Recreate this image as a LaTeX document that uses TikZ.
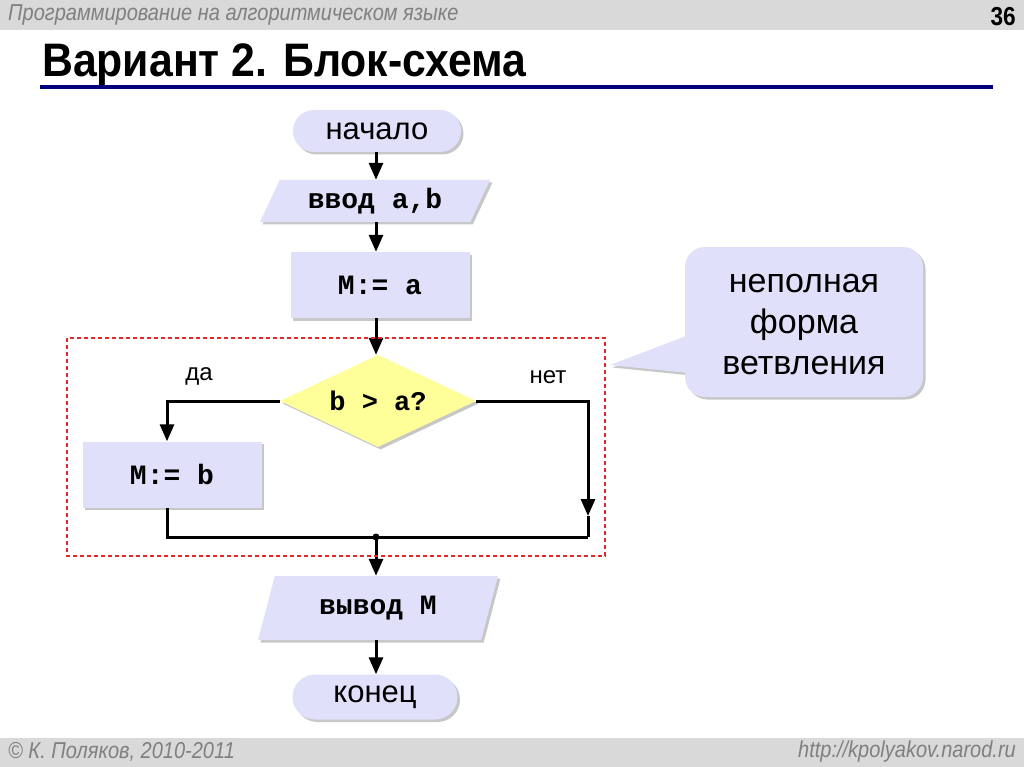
\documentclass[tikz,border=0pt]{standalone}
\usepackage{fontspec}
\setmainfont{Liberation Sans}
\newfontfamily\monof{Liberation Mono}
\newfontfamily\narrowf[FakeStretch=0.87]{Liberation Sans}
\newfontfamily\titlef[FakeStretch=0.91]{Liberation Sans}
\usetikzlibrary{shapes.geometric,shapes.misc,shadows,arrows.meta,backgrounds}
\pgfdeclarelayer{bottomlayer}
\pgfsetlayers{bottomlayer,background,main}
\definecolor{boxfill}{RGB}{224,224,250}
\definecolor{dfill}{RGB}{255,255,153}
\definecolor{barg}{RGB}{217,217,217}
\definecolor{navyline}{RGB}{0,0,128}
\definecolor{txtg}{RGB}{128,128,128}
\definecolor{dred}{RGB}{225,40,40}
\tikzset{
  shad/.style={drop shadow={shadow xshift=2.5pt, shadow yshift=-2.5pt, fill=black, opacity=0.22}},
  base/.style={fill=boxfill, draw=none, shad, inner sep=0pt},
  term/.style={base, rounded rectangle, minimum width=168pt, minimum height=42pt, font=\fontsize{31}{34}\selectfont},
  io/.style={base, trapezium, trapezium stretches body, font=\monof\bfseries\fontsize{28}{30}\selectfont},
  proc/.style={base, rectangle, minimum width=179pt, minimum height=66pt, font=\monof\bfseries\fontsize{28}{30}\selectfont},
  dec/.style={fill=dfill, draw=none, diamond, aspect=2.13, shad, inner sep=0pt, minimum width=196pt, minimum height=92pt, font=\monof\bfseries\fontsize{27}{30}\selectfont},
  conn/.style={line width=3pt, draw=black},
  arr/.style={conn, -{Triangle[length=17pt,width=14pt]}},
  lbl/.style={font=\fontsize{24}{26}\selectfont, inner sep=0pt},
  callout/.style={fill=boxfill, draw=none, shad, rounded corners=20pt, minimum width=238pt, minimum height=150pt},
  callouttext/.style={align=center, inner sep=0pt, font=\fontsize{34}{41}\selectfont},
  hdr/.style={font=\narrowf\itshape\fontsize{23}{26}\selectfont, text=txtg, inner sep=0pt}
}
\begin{document}
\begin{tikzpicture}[x=1pt, y=-1pt]
\useasboundingbox (0,0) rectangle (1024,767);
\begin{pgfonlayer}{bottomlayer}
\fill[white] (0,0) rectangle (1024,767);
\end{pgfonlayer}
% header and footer
\fill[barg] (0,0) rectangle (1024,30);
\fill[barg] (0,738) rectangle (1024,767);
\node[hdr, anchor=west] (htxt) at (8,15) {Программирование на алгоритмическом языке};
\node[font=\narrowf\bfseries\fontsize{26}{28}\selectfont, anchor=east, inner sep=0pt] (pg) at (1016,17) {36};
\node[font=\titlef\bfseries\fontsize{47}{50}\selectfont, anchor=base west, inner sep=0pt] (title) at (42,77) {Вариант 2. Блок-схема};
\draw[navyline, line width=4pt] (40,87) -- (993,87);
\node[hdr, anchor=west] (foot1) at (8,752) {© К. Поляков, 2010-2011};
\node[hdr, anchor=east] (foot2) at (1016,752) {http://kpolyakov.narod.ru};

% flowchart nodes
\node[term] (st) at (377,131) {начало};
\node[io, trapezium left angle=52.7, trapezium right angle=127.3, minimum width=230pt, minimum height=42pt] (in) at (375,201) {ввод a,b};
\node[proc] (ma) at (380,285) {M:= a};
\node[dec] (d) at (378,401) {b > a?};
\node[proc] (mb) at (172,474.5) {M:= b};
\node[io, trapezium left angle=55, trapezium right angle=125, minimum width=240pt, minimum height=64pt] (out) at (378,608) {вывод M};
\node[term, minimum width=165pt, minimum height=45pt] (en) at (375,697) {конец};

\node[lbl] (yes) at (199,376) {да};
\node[lbl] (no) at (548,377) {нет};

\coordinate (jL) at (167,537);
\coordinate (jM) at (376,537);
\coordinate (jR) at (588,537);
\coordinate (aR) at (588,516);

% connectors
\draw[arr] (st.south -| jM) -- (in.north -| jM);
\draw[arr] (in.south -| jM) -- (ma.north -| jM);
\draw[arr] (ma.south -| jM) -- (d.north -| jM);
\draw[arr] (d.west) -| (jL |- mb.north);
\draw[arr] (d.east) -| (aR);
\draw[conn] (aR) -- (jR);
\draw[conn, line join=miter] (jL |- mb.south) -- (jL) -- (jR);
\fill (jM) circle (3.5pt);
\draw[arr] (jM) -- (out.north -| jM);
\draw[arr] (out.south -| jM) -- (en.north -| jM);

% dashed frame
\draw[dred, line width=1.2pt, dash pattern=on 4pt off 3pt] (67,338) rectangle (605,556);

% callout
\node[callout] (cb) at (804,322) {};
\node[callouttext] (cbt) at (804,325) {неполная\\форма\\ветвления};
\coordinate (tip) at (610,365);
\begin{scope}[on background layer]
\fill[boxfill, shad] (tip) -- ([xshift=4pt, yshift=-13pt]cb.west) -- ([xshift=4pt, yshift=-51pt]cb.west) -- cycle;
\end{scope}
\end{tikzpicture}
\end{document}
